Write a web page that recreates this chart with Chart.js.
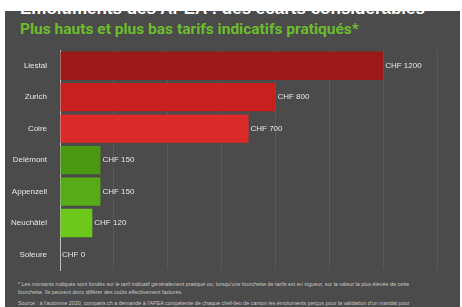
<!DOCTYPE html>
<html>
<head>
<meta charset="utf-8">
<script src="https://cdn.jsdelivr.net/npm/chart.js@4"></script>
<style>
  body { margin:0; width:462px; height:307px; background:#fff; overflow:hidden; position:relative; font-family:"Liberation Sans", Arial, sans-serif; }
  #panel { position:absolute; left:5px; top:11px; width:455px; height:296px; background:#4b4b4b; }
  #t1 { position:absolute; left:20px; top:-1px; font-weight:bold; font-size:17px; color:#fff; white-space:nowrap; z-index:2; }
  #t2 { position:absolute; left:20px; top:20px; font-weight:bold; font-size:15.5px; color:#6cbd2c; white-space:nowrap; z-index:2; font-family:Roboto, sans-serif; }
  #wrap { position:absolute; left:5px; top:40px; width:455px; height:240px; z-index:2; }
  .note { position:absolute; left:18px; font-size:5.4px; color:#c8c8c8; white-space:nowrap; z-index:2; line-height:8px; }
</style>
</head>
<body>
<div id="panel"></div>
<div id="t1">Émoluments des APEA : des écarts considérables</div>
<div id="t2">Plus hauts et plus bas tarifs indicatifs pratiqués*</div>
<div id="wrap"><canvas id="bars"></canvas></div>
<div class="note" style="top:280px">* Les montants indiqués sont fondés sur le tarif indicatif généralement pratiqué ou, lorsqu'une fourchette de tarifs est en vigueur, sur la valeur la plus élevée de cette<br>fourchette. Ils peuvent donc différer des coûts effectivement facturés.</div>
<div class="note" style="top:299px">Source : à l'automne 2020, comparis.ch a demandé à l'APEA compétente de chaque chef-lieu de canton les émoluments perçus pour la validation d'un mandat pour</div>
<script>
// data
let villes = ["Liestal", "Zurich", "Coire", "Delémont", "Appenzell", "Neuchâtel", "Soleure"];
let tarifs = [1200, 800, 700, 150, 150, 120, 0];
let couleurs = ["#9c1a1a", "#c81f1f", "#dc2a2a", "#4b9912", "#56ab16", "#6cc81b", "#6cc81b"];
let xTicks = [0, 200, 400, 600, 800, 1000, 1200, 1400];

// label "CHF xxx" after each bar
const valueLabels = {
    id: 'valueLabels',
    afterDatasetsDraw(chart) {
        let c = chart.ctx;
        let meta = chart.getDatasetMeta(0);
        c.save();
        c.font = '8px "Liberation Sans", Arial, sans-serif';
        c.fillStyle = '#e6e6e6';
        c.textBaseline = 'middle';
        meta.data.forEach((bar, i) => {
            c.fillText('CHF ' + tarifs[i], bar.x + 2, bar.y);
        });
        c.restore();
    }
};

new Chart(document.getElementById("bars"), {
    type: 'bar',
    data: {
        labels: villes,
        datasets: [{
            data: tarifs,
            backgroundColor: couleurs,
            barPercentage: 0.9,
            categoryPercentage: 1
        }]
    },
    options: {
        indexAxis: 'y',
        responsive: true,
        maintainAspectRatio: false,
        animation: false,
        layout: { padding: { left: 0, right: 23, top: 10, bottom: 6 } },
        plugins: { legend: { display: false }, tooltip: { enabled: false } },
        scales: {
            x: {
                min: 0, max: 1400,
                afterBuildTicks: s => { s.ticks = xTicks.map(v => ({ value: v })); },
                afterFit: s => { s.height = 0; },
                ticks: { display: false },
                border: { display: false },
                grid: { color: '#585858', lineWidth: 1, drawTicks: false }
            },
            y: {
                afterFit: s => { s.width = 55; },
                grid: { display: false },
                border: { color: '#bdbdbd', width: 1 },
                ticks: { color: '#e6e6e6', font: { size: 8, family: '"Liberation Sans", Arial, sans-serif' }, padding: 5 }
            }
        }
    },
    plugins: [valueLabels]
});
</script>
</body>
</html>
